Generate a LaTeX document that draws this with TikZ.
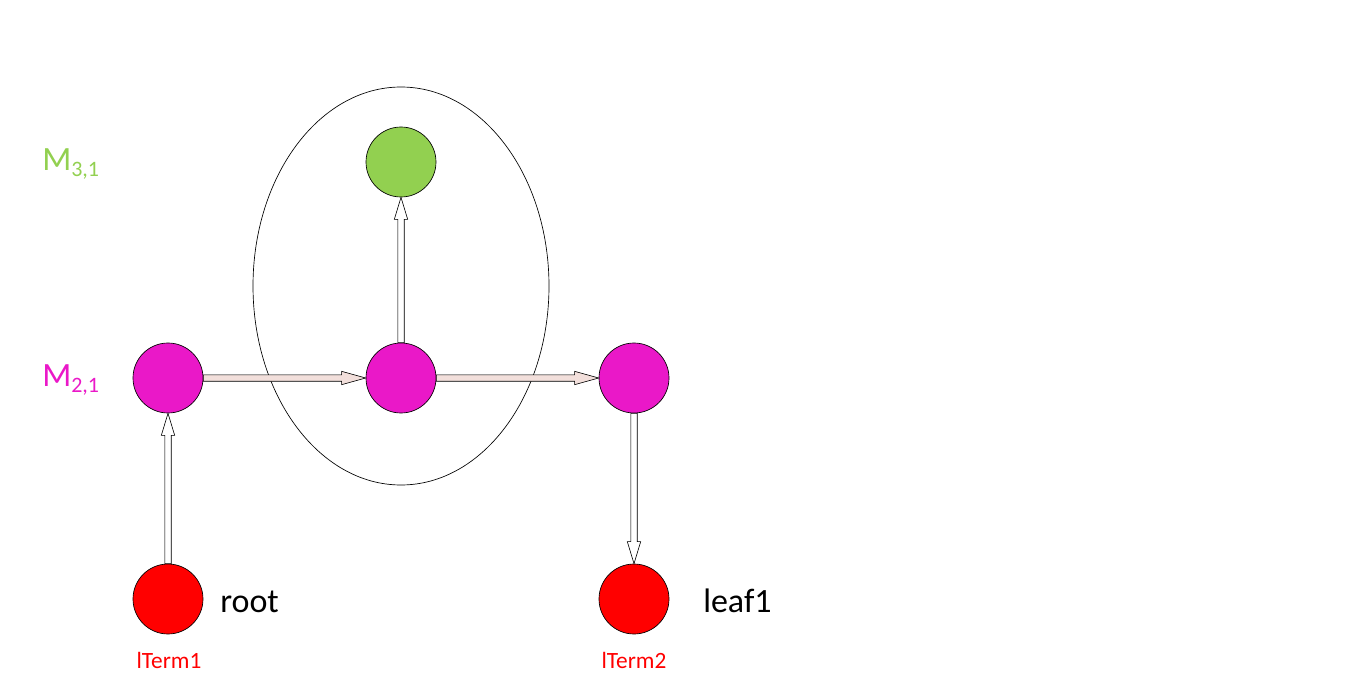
\documentclass[tikz,border=0pt]{standalone}
\usepackage{fontspec}
\setmainfont{Carlito}
\usetikzlibrary{calc}
\definecolor{mag}{HTML}{EA18C8}
\definecolor{grn}{HTML}{92D050}
\definecolor{pinkfill}{HTML}{F2DFDB}
\tikzset{
  dot/.style={circle, draw=black, line width=0.5pt, minimum size=52.5pt, inner sep=0pt},
  magdot/.style={dot, fill=mag},
  grndot/.style={dot, fill=grn},
  reddot/.style={dot, fill=red},
  bigtxt/.style={font=\fontsize{25.5}{28}\selectfont, inner sep=0pt},
  smalltxt/.style={font=\fontsize{17.5}{20}\selectfont, text=red, inner sep=0pt},
  arrshadow/.style={fill=black!45, draw=none, shift={(0.9pt,-0.9pt)}},
  harr/.style={fill=pinkfill, draw=black, line width=0.45pt},
  varr/.style={fill=white, draw=black, line width=0.45pt}
}
% rightward block arrow between two points
\newcommand\hblock[3]{%
  \path[#1] let \p1=#2, \p2=#3 in
    (\x1,\y1+2.4pt) -- (\x2-18pt,\y1+2.4pt) -- (\x2-18pt,\y1+5pt) -- (\x2,\y1)
    -- (\x2-18pt,\y1-5pt) -- (\x2-18pt,\y1-2.4pt) -- (\x1,\y1-2.4pt) -- cycle;}
% vertical block arrow between two points
\newcommand\vblock[3]{%
  \path[#1] let \p1=#2, \p2=#3, \n1={sign(\y2-\y1)} in
    (\x1-2.4pt,\y1) -- (\x1-2.4pt,\y2-\n1*16.5pt) -- (\x1-5pt,\y2-\n1*16.5pt) -- (\x1,\y2)
    -- (\x1+5pt,\y2-\n1*16.5pt) -- (\x1+2.4pt,\y2-\n1*16.5pt) -- (\x1+2.4pt,\y1) -- cycle;}
\newcommand\Mlab[2]{M\raisebox{-3.8pt}{\fontsize{16.5}{18}\selectfont #2}}
\begin{document}
\begin{tikzpicture}[x=0.75pt, y=0.75pt]
\useasboundingbox (0,0) rectangle (1350,687);
% ellipse around the middle group
\coordinate (ec) at (401,401);
\draw[line width=0.5pt] (ec) ellipse [x radius=111pt, y radius=149.25pt];
% nodes
\node[grndot] (g) at (401,525) {};
\node[magdot] (m1) at (168,309) {};
\node[magdot] (m2) at (401,309) {};
\node[magdot] (m3) at (634,309) {};
\node[reddot] (r1) at (168,88) {};
\node[reddot] (r2) at (634,88) {};
% labels
\node[bigtxt, text=grn, anchor=west] (l3) at (42,523) {\Mlab{3}{3,1}};
\node[bigtxt, text=mag, anchor=west] (l2) at (42,307) {\Mlab{2}{2,1}};
\node[bigtxt, anchor=base west] (troot) at (220,75) {root};
\node[bigtxt, anchor=base west] (tleaf) at (703,75) {leaf1};
\node[smalltxt, anchor=base] (t1) at (169,19) {lTerm1};
\node[smalltxt, anchor=base] (t2) at (634,19) {lTerm2};
% arrows: shadows first
\hblock{arrshadow}{(m1.east)}{(m2.west)}
\hblock{arrshadow}{(m2.east)}{(m3.west)}
\vblock{arrshadow}{(r1.north)}{(m1.south)}
\vblock{arrshadow}{(m2.north)}{(g.south)}
\vblock{arrshadow}{(m3.south)}{(r2.north)}
% arrows
\hblock{harr}{(m1.east)}{(m2.west)}
\hblock{harr}{(m2.east)}{(m3.west)}
\vblock{varr}{(r1.north)}{(m1.south)}
\vblock{varr}{(m2.north)}{(g.south)}
\vblock{varr}{(m3.south)}{(r2.north)}
\end{tikzpicture}
\end{document}
